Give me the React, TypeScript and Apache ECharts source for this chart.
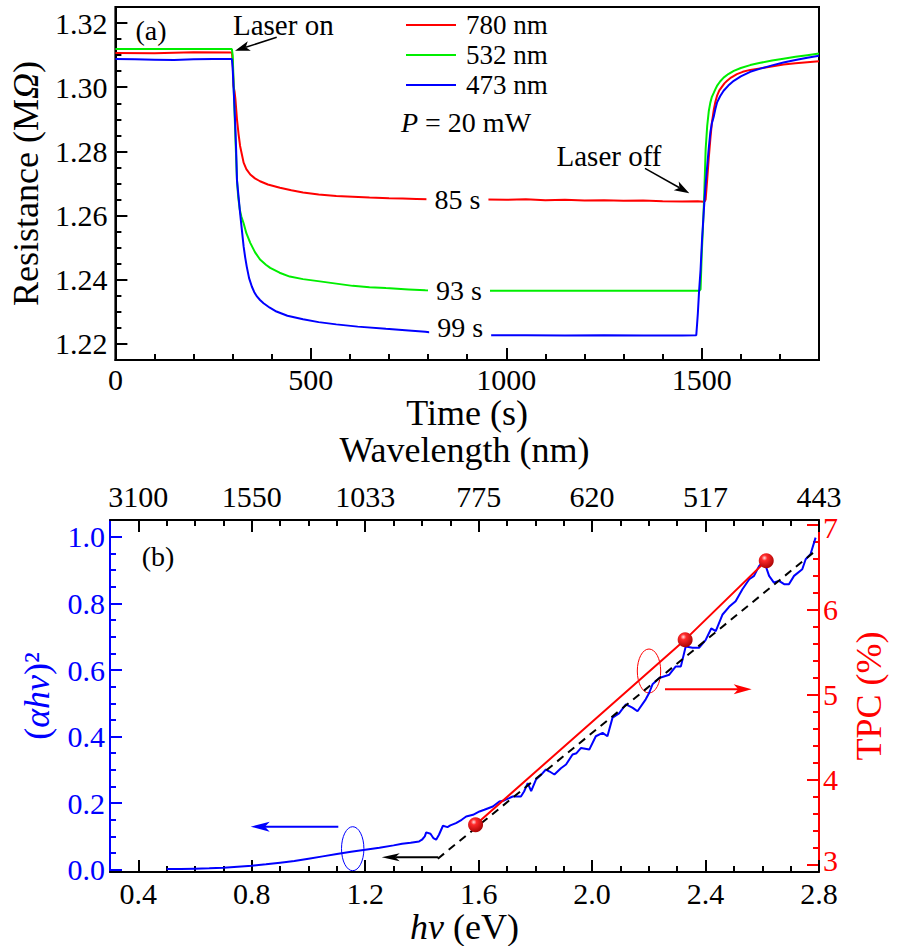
import React, { useEffect, useRef } from "react";
import * as echarts from "echarts";

const FONT = "Liberation Serif, DejaVu Serif, serif";

// ---------- Panel (a): resistance vs time ----------
const red780: [number, number][] = [
  [0, 1.3107], [100, 1.3106], [200, 1.3109], [298, 1.3108], [300, 1.308], [302, 1.3005], [305, 1.2985],
  [307, 1.2963], [311, 1.29], [315, 1.2855], [319, 1.2817], [324, 1.2788], [328, 1.2765], [335, 1.2745],
  [345, 1.2728], [357, 1.2716], [370, 1.2707], [390, 1.2697], [421, 1.2687], [450, 1.2679], [480, 1.2672],
  [520, 1.2666], [565, 1.2661], [607, 1.2659], [650, 1.2656], [700, 1.2654], [735, 1.2653], [770, 1.2652],
  [800, 1.2651], [850, 1.2651], [900, 1.265], [950, 1.265], [1000, 1.2649], [1050, 1.2651], [1100, 1.2648],
  [1150, 1.2649], [1200, 1.2647], [1250, 1.2648], [1300, 1.2646], [1350, 1.2647], [1400, 1.2645],
  [1450, 1.2644], [1490, 1.2645], [1505, 1.2643], [1508, 1.2645], [1510, 1.265], [1514, 1.2713],
  [1518, 1.278], [1522, 1.2838], [1526, 1.289], [1531, 1.2931], [1535, 1.2955], [1539, 1.2973],
  [1545, 1.299], [1552, 1.3002], [1558, 1.3012], [1565, 1.302], [1575, 1.303], [1590, 1.3041],
  [1605, 1.3048], [1624, 1.3054], [1645, 1.3058], [1667, 1.3062], [1690, 1.3067], [1709, 1.3071],
  [1740, 1.3075], [1770, 1.3078], [1800, 1.3081],
];
const green532: [number, number][] = [
  [0, 1.3119], [100, 1.3119], [200, 1.3119], [298, 1.3119], [300, 1.31], [302, 1.303], [304, 1.295],
  [306, 1.288], [308, 1.281], [311, 1.2712], [314, 1.266], [318, 1.262], [322, 1.2598], [328, 1.2576],
  [335, 1.2545], [345, 1.2515], [357, 1.2486], [370, 1.2463], [385, 1.2447], [396, 1.2437], [420, 1.2422],
  [446, 1.241], [480, 1.2402], [523, 1.2395], [565, 1.2388], [607, 1.2381], [650, 1.2377], [692, 1.2374],
  [750, 1.237], [793, 1.2367], [850, 1.2366], [950, 1.2366], [1050, 1.2366], [1150, 1.2366],
  [1250, 1.2366], [1350, 1.2366], [1450, 1.2366], [1494, 1.2366], [1497, 1.237], [1500, 1.248],
  [1503, 1.256], [1506, 1.265], [1510, 1.2806], [1514, 1.288], [1518, 1.2925], [1522, 1.2952],
  [1526, 1.297], [1531, 1.2983], [1535, 1.2994], [1539, 1.3004], [1547, 1.3018], [1556, 1.303],
  [1568, 1.3041], [1582, 1.3051], [1600, 1.306], [1624, 1.3069], [1650, 1.3076], [1680, 1.3083],
  [1709, 1.3089], [1740, 1.3095], [1770, 1.31], [1800, 1.3105],
];
const blue473: [number, number][] = [
  [0, 1.3088], [50, 1.3087], [100, 1.3086], [150, 1.3085], [200, 1.3087], [250, 1.3088], [298, 1.3088],
  [300, 1.306], [303, 1.298], [306, 1.29], [309, 1.28], [311, 1.271], [315, 1.266], [319, 1.2608],
  [324, 1.255], [328, 1.2504], [332, 1.247], [336, 1.2441], [342, 1.2405], [349, 1.2379], [355, 1.2362],
  [362, 1.2348], [370, 1.2337], [379, 1.2327], [395, 1.2313], [412, 1.2301], [440, 1.2288], [480, 1.2277],
  [520, 1.2268], [565, 1.2261], [620, 1.2254], [692, 1.2247], [750, 1.2242], [793, 1.2238], [850, 1.2229],
  [950, 1.2227], [1050, 1.2227], [1150, 1.2226], [1250, 1.2227], [1350, 1.2226], [1450, 1.2226],
  [1486, 1.2227], [1488, 1.226], [1490, 1.2294], [1493, 1.236], [1497, 1.2431], [1501, 1.253],
  [1506, 1.2628], [1510, 1.27], [1514, 1.2754], [1518, 1.281], [1522, 1.2859], [1526, 1.2888],
  [1531, 1.291], [1535, 1.2933], [1539, 1.2952], [1547, 1.2972], [1556, 1.2989], [1568, 1.3005],
  [1582, 1.302], [1600, 1.3034], [1624, 1.3048], [1650, 1.3058], [1680, 1.3068], [1709, 1.3077],
  [1740, 1.3085], [1770, 1.3092], [1800, 1.3098],
];
const seriesNames = ["780 nm", "532 nm", "473 nm"];
const seriesColors = ["#ff0000", "#00ee00", "#0000ff"];
const decayLabels = ["85 s", "93 s", "99 s"];
const decayLabelAt: [number, number][] = [[875, 1.2649], [879, 1.2367], [882, 1.2252]];
const timeTicks = [0, 500, 1000, 1500];
const timeMinorTicks = [100, 200, 300, 400, 600, 700, 800, 900, 1100, 1200, 1300, 1400, 1600, 1700];
const resTicks = [1.22, 1.24, 1.26, 1.28, 1.3, 1.32];
const resMinorTicks = [1.225, 1.23, 1.235, 1.245, 1.25, 1.255, 1.265, 1.27, 1.275, 1.285, 1.29, 1.295, 1.305, 1.31, 1.315];

// ---------- Panel (b): absorption & TPC vs photon energy ----------
const absorption: [number, number][] = [
  [0.5, 0.002], [0.55, 0.002], [0.6, 0.003], [0.65, 0.004], [0.7, 0.006], [0.75, 0.009], [0.8, 0.012],
  [0.85, 0.016], [0.9, 0.021], [0.95, 0.026], [1.0, 0.033], [1.05, 0.04], [1.1, 0.047], [1.15, 0.054],
  [1.2, 0.06], [1.25, 0.066], [1.3, 0.073], [1.33, 0.078], [1.36, 0.081], [1.39, 0.085], [1.4, 0.09],
  [1.41, 0.1], [1.415, 0.112], [1.43, 0.108], [1.44, 0.095], [1.45, 0.09], [1.46, 0.105], [1.474, 0.132],
  [1.49, 0.128], [1.5, 0.133], [1.52, 0.14], [1.54, 0.15], [1.556, 0.16], [1.58, 0.165], [1.603, 0.175],
  [1.62, 0.18], [1.65, 0.19], [1.673, 0.205], [1.69, 0.208], [1.72, 0.22], [1.749, 0.22], [1.76, 0.235],
  [1.773, 0.26], [1.785, 0.236], [1.802, 0.271], [1.82, 0.285], [1.837, 0.301], [1.85, 0.295],
  [1.867, 0.286], [1.89, 0.305], [1.908, 0.316], [1.931, 0.346], [1.945, 0.35], [1.961, 0.366],
  [1.99, 0.361], [2.013, 0.401], [2.037, 0.411], [2.054, 0.401], [2.072, 0.457], [2.095, 0.47],
  [2.119, 0.497], [2.142, 0.487], [2.16, 0.476], [2.189, 0.512], [2.201, 0.531], [2.213, 0.557],
  [2.237, 0.576], [2.272, 0.586], [2.295, 0.611], [2.313, 0.611], [2.33, 0.671], [2.354, 0.667],
  [2.377, 0.667], [2.4, 0.69], [2.42, 0.725], [2.436, 0.717], [2.46, 0.767], [2.483, 0.79], [2.506, 0.807],
  [2.53, 0.843], [2.554, 0.873], [2.571, 0.883], [2.589, 0.913], [2.606, 0.928], [2.624, 0.883],
  [2.641, 0.863], [2.659, 0.868], [2.677, 0.858], [2.694, 0.858], [2.712, 0.883], [2.741, 0.903],
  [2.753, 0.933], [2.77, 0.948], [2.788, 0.998],
];
const taucFit: [number, number][] = [[1.456, 0.033], [2.79, 0.96]];
const tpc: [number, number][] = [[1.589, 3.47], [2.328, 5.65], [2.614, 6.58]];
const energyTicks = [0.4, 0.8, 1.2, 1.6, 2.0, 2.4, 2.8];
const energyMinorTicks = [0.5, 0.6, 0.7, 0.9, 1.0, 1.1, 1.3, 1.4, 1.5, 1.7, 1.8, 1.9, 2.1, 2.2, 2.3, 2.5, 2.6, 2.7];
const wavelengthLabels = ["3100", "1550", "1033", "775", "620", "517", "443"];
const absTicks = [0, 0.2, 0.4, 0.6, 0.8, 1.0];
const absMinorTicks = [0.05, 0.1, 0.15, 0.25, 0.3, 0.35, 0.45, 0.5, 0.55, 0.65, 0.7, 0.75, 0.85, 0.9, 0.95];
const tpcTicks = [3, 4, 5, 6, 7];
const tpcMinorTicks = [3.2, 3.4, 3.6, 3.8, 4.2, 4.4, 4.6, 4.8, 5.2, 5.4, 5.6, 5.8, 6.2, 6.4, 6.6, 6.8];

type AxisOpts = {
  grid: number; min: number; max: number; position: string; color: string;
  major: number[]; minor: number[]; fmt?: (v: number) => string; margin?: number;
  name?: string; nameGap?: number; lineHeight?: number; rich?: any;
};

function axisPair(o: AxisOpts): any[] {
  const main: any = {
    gridIndex: o.grid, type: "value", min: o.min, max: o.max, position: o.position,
    axisLine: { show: true, onZero: false, lineStyle: { color: o.color, width: 2 } },
    axisTick: { show: true, inside: true, length: 12, customValues: o.major, lineStyle: { color: o.color, width: 2 } },
    axisLabel: {
      show: true, customValues: o.major, margin: o.margin ?? 6, fontSize: 30, fontFamily: FONT, color: o.color,
      formatter: o.fmt, lineHeight: o.lineHeight ?? 30, rich: o.rich,
    },
    splitLine: { show: false },
  };
  if (o.name) {
    main.name = o.name;
    main.nameLocation = "middle";
    main.nameGap = o.nameGap;
    main.nameTextStyle = {
      fontSize: 36, fontFamily: FONT, color: o.color,
      rich: { i: { fontSize: 36, fontFamily: FONT, fontStyle: "italic", color: o.color } },
    };
  }
  const minor: any = {
    gridIndex: o.grid, type: "value", min: o.min, max: o.max, position: o.position,
    axisLine: { show: false, onZero: false },
    axisTick: { show: true, inside: true, length: 6, customValues: o.minor, lineStyle: { color: o.color, width: 2 } },
    axisLabel: { show: false },
    splitLine: { show: false },
  };
  return [main, minor];
}

function arrow(x1: number, y1: number, x2: number, y2: number, color: string, lw: number, len: number, half: number): any[] {
  const dx = x2 - x1, dy = y2 - y1;
  const L = Math.hypot(dx, dy);
  const ux = dx / L, uy = dy / L;
  const bx = x2 - ux * len, by = y2 - uy * len;
  const px = -uy, py = ux;
  const cx = x2 - ux * len * 0.75, cy = y2 - uy * len * 0.75;
  return [
    { type: "line", shape: { x1, y1, x2: cx, y2: cy }, style: { stroke: color, lineWidth: lw } },
    {
      type: "polygon",
      shape: { points: [[x2, y2], [bx + px * half, by + py * half], [cx, cy], [bx - px * half, by - py * half]] },
      style: { fill: color },
    },
  ];
}

function label(text: string, x: number, y: number, size: number, align = "center", rich?: any): any {
  return {
    type: "text", x, y,
    style: {
      text, fontSize: size, fontFamily: FONT, fill: "#000",
      align, textAlign: align, verticalAlign: "middle", textVerticalAlign: "middle",
      rich,
    },
  };
}

export default function App() {
  const ref = useRef<HTMLDivElement>(null);
  useEffect(() => {
    if (!ref.current) return;
    const chart = echarts.init(ref.current, null, { renderer: "svg" });
    const energyFmt = (v: number) => v.toFixed(1);
    const waveFmt = (v: number) => {
      const i = energyTicks.findIndex((e) => Math.abs(e - v) < 1e-6);
      return i >= 0 ? wavelengthLabels[i] : "";
    };
    const lastTpc = tpcTicks[tpcTicks.length - 1];
    const tpcFmt = (v: number) => {
      if (Math.abs(v - tpcTicks[0]) < 1e-6) return "{lo|" + v + "}";
      if (Math.abs(v - lastTpc) < 1e-6) return "{hi|" + v + "}";
      return String(v);
    };
    const tpcRich = {
      lo: { fontSize: 30, fontFamily: FONT, color: "#ff0000", padding: [0, 0, 8, 0] },
      hi: { fontSize: 30, fontFamily: FONT, color: "#ff0000", padding: [4, 0, 0, 0] },
    };
    const xAxis = [
      ...axisPair({ grid: 0, min: 0, max: 1800, position: "bottom", color: "#000", major: timeTicks, minor: timeMinorTicks,
        fmt: (v) => String(v), margin: 4, name: "Time (s)", nameGap: 35 }),
      ...axisPair({ grid: 1, min: 0.3, max: 2.8, position: "bottom", color: "#000", major: energyTicks, minor: energyMinorTicks,
        fmt: energyFmt, margin: 9, lineHeight: 24, name: "{i|hν} (eV)", nameGap: 27 }),
      ...axisPair({ grid: 1, min: 0.3, max: 2.8, position: "top", color: "#000", major: energyTicks, minor: energyMinorTicks,
        fmt: waveFmt, margin: 12, lineHeight: 24, name: "Wavelength (nm)", nameGap: 52 }),
    ];
    const yAxis = [
      ...axisPair({ grid: 0, min: 1.215, max: 1.325, position: "left", color: "#000", major: resTicks, minor: resMinorTicks,
        fmt: (v) => v.toFixed(2), margin: 8, name: "Resistance (M{i|Ω})", nameGap: 63 }),
      ...axisPair({ grid: 1, min: -0.007, max: 1.051, position: "left", color: "#0000ff", major: absTicks, minor: absMinorTicks,
        fmt: (v) => v.toFixed(1), margin: 5, name: "({i|αhν})²", nameGap: 55 }),
      ...axisPair({ grid: 1, min: 2.914, max: 7.059, position: "right", color: "#ff0000", major: tpcTicks, minor: tpcMinorTicks,
        fmt: tpcFmt, rich: tpcRich, margin: 4, lineHeight: 20, name: "TPC (%)", nameGap: 32 }),
    ];

    const panelA = [red780, green532, blue473].map((data, i) => ({
      type: "line", name: seriesNames[i], xAxisIndex: 0, yAxisIndex: 0, data,
      symbol: "none", showSymbol: false,
      lineStyle: { color: seriesColors[i], width: 2 }, itemStyle: { color: seriesColors[i] },
      markPoint: {
        silent: true, symbol: "rect", symbolSize: [62, 24], itemStyle: { color: "#fff" },
        label: { show: true, position: "inside", formatter: decayLabels[i], color: "#000", fontSize: 28, fontFamily: FONT },
        data: [{ coord: decayLabelAt[i] }],
      },
    }));

    const sphere = {
      type: "radial", x: 0.38, y: 0.32, r: 0.75,
      colorStops: [
        { offset: 0, color: "#ffe0e0" }, { offset: 0.25, color: "#ff2a2a" }, { offset: 1, color: "#a00000" },
      ],
    };

    const graphic = [
      label("(a)", 151, 30, 28),
      label("Laser on", 233, 25, 29, "left"),
      ...arrow(276.7, 37.3, 235, 50.7, "#000", 1.5, 15, 5),
      label("{i|P} = 20 mW", 466, 122, 28, "center", { i: { fontStyle: "italic", fontSize: 28, fontFamily: FONT } }),
      label("Laser off", 609, 156, 29),
      ...arrow(645, 168.3, 689.3, 193.3, "#000", 1.5, 15, 5),
      label("(b)", 158, 556, 28),
      ...arrow(338.3, 826.7, 250.7, 826.7, "#0000ff", 2, 19, 5),
      ...arrow(438.3, 857.3, 381.7, 857.3, "#000", 2, 18, 4),
      ...arrow(665, 689.3, 751.7, 689.3, "#ff0000", 2, 18, 5),
      { type: "ellipse", shape: { cx: 352.7, cy: 848.7, rx: 11.2, ry: 22 }, style: { fill: "none", stroke: "#0000ff", lineWidth: 1 } },
      { type: "ellipse", shape: { cx: 649, cy: 671, rx: 11.7, ry: 22 }, style: { fill: "none", stroke: "#ff0000", lineWidth: 1 } },
    ];

    chart.setOption({
      animation: false,
      backgroundColor: "#fff",
      grid: [
        { left: 111, top: 7, width: 708, height: 353, show: true, borderColor: "#000", borderWidth: 2, backgroundColor: "transparent" },
        { left: 110, top: 520, width: 709, height: 352 },
      ],
      legend: {
        data: seriesNames, orient: "vertical", left: 406, top: 11, itemWidth: 50, itemHeight: 2, icon: "rect",
        itemGap: 2, padding: 0, selectedMode: false,
        textStyle: { fontSize: 27, fontFamily: FONT, color: "#000", lineHeight: 28, padding: [0, 0, 0, 5] },
      },
      xAxis, yAxis,
      series: [
        ...panelA,
        { type: "line", name: "absorption", xAxisIndex: 2, yAxisIndex: 2, data: absorption, symbol: "none",
          lineStyle: { color: "#0000ff", width: 2 }, itemStyle: { color: "#0000ff" } },
        { type: "line", name: "fit", xAxisIndex: 2, yAxisIndex: 2, data: taucFit, symbol: "none",
          lineStyle: { color: "#000", width: 2, type: [8, 6] }, itemStyle: { color: "#000" } },
        { type: "line", name: "TPC", xAxisIndex: 2, yAxisIndex: 4, data: tpc, symbol: "circle", symbolSize: 15,
          showSymbol: true, lineStyle: { color: "#ff0000", width: 2 }, itemStyle: { color: sphere }, z: 5 },
      ],
      graphic,
    });
    return () => chart.dispose();
  }, []);
  return <div ref={ref} style={{ position: "absolute", left: 0, top: 0, width: 901, height: 946 }} />;
}
